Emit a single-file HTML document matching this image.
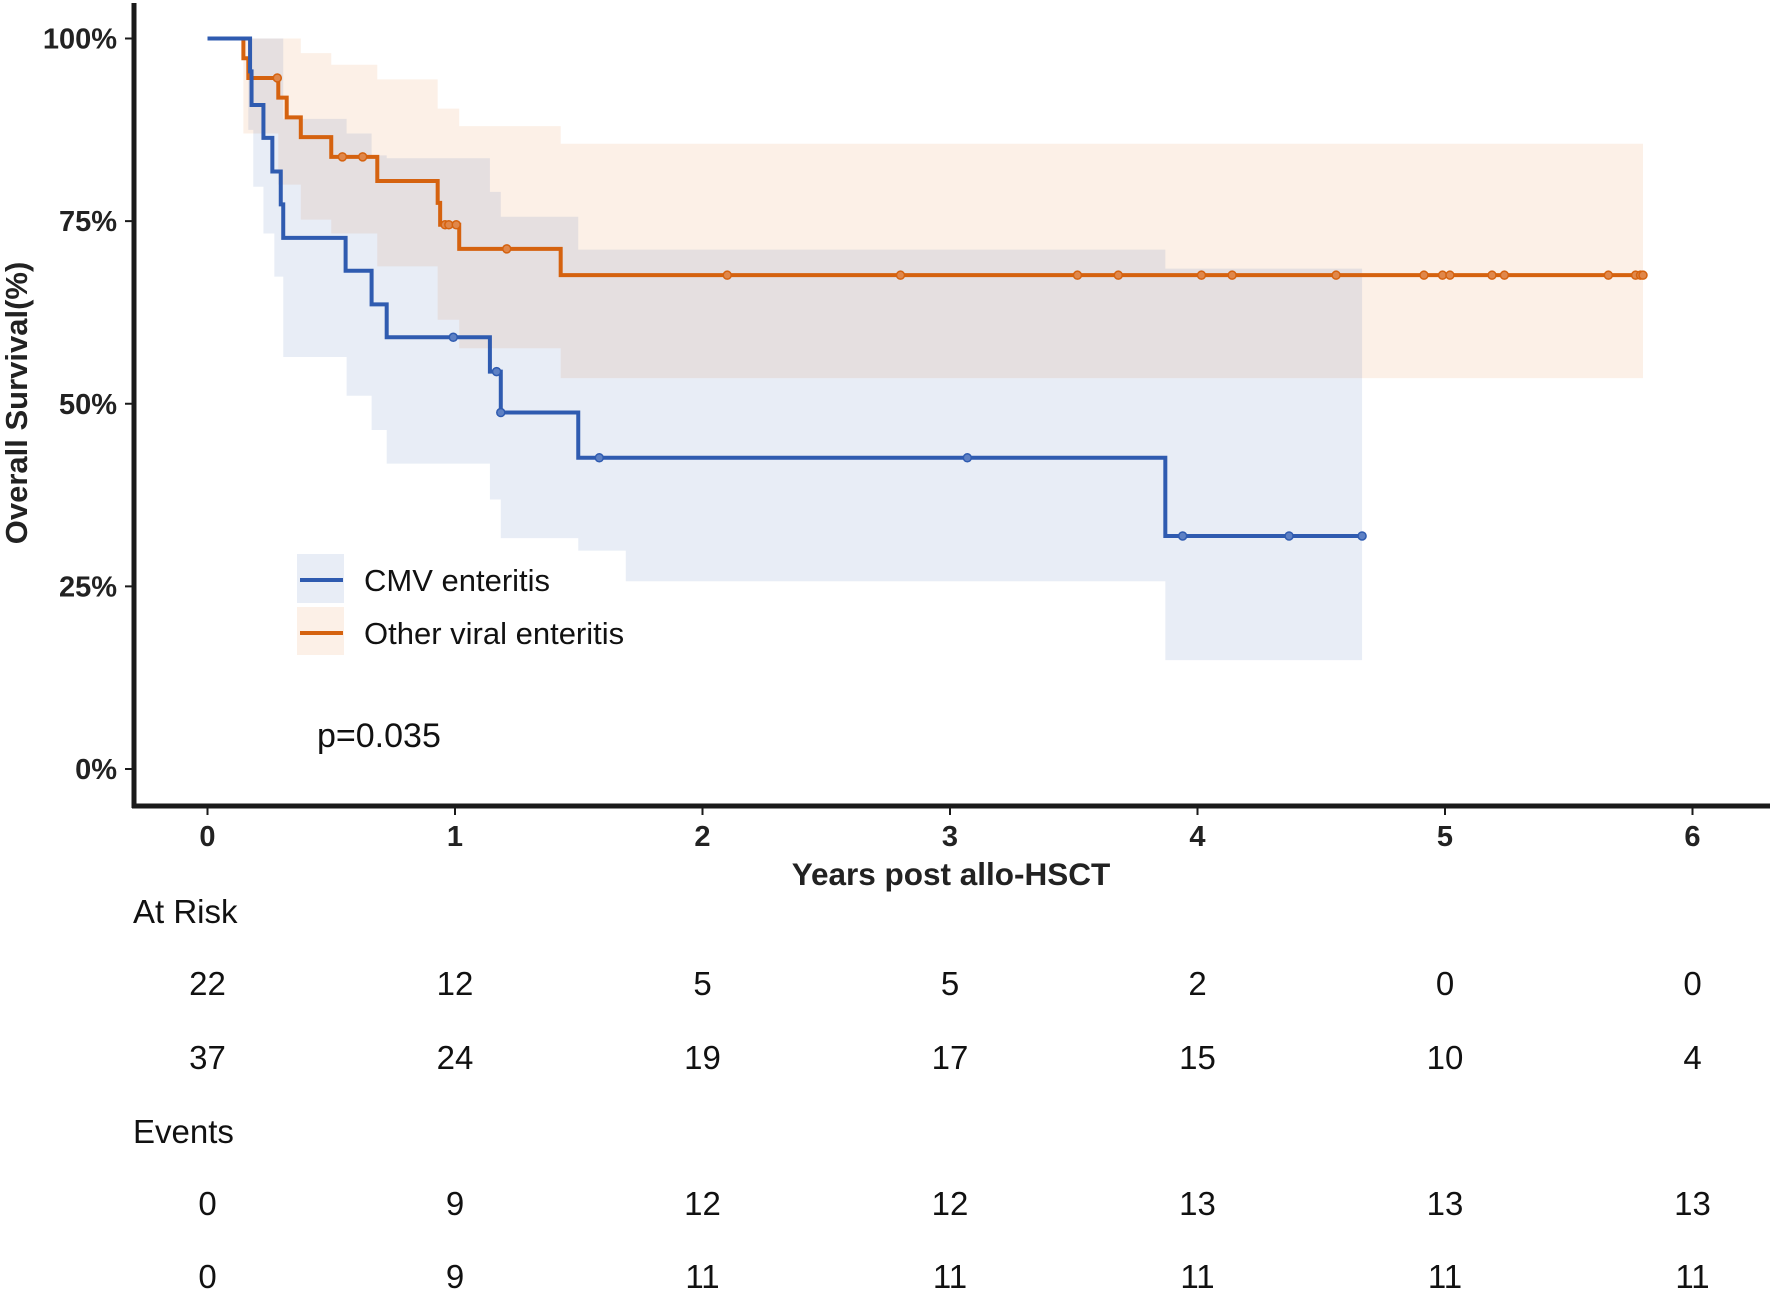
<!DOCTYPE html>
<html><head><meta charset="utf-8"><style>
html,body{margin:0;padding:0;background:#fff;}
svg{display:block;font-family:"Liberation Sans",Arial,sans-serif;}
</style></head><body>
<svg id="chart" width="1772" height="1292" viewBox="0 0 1772 1292" xmlns="http://www.w3.org/2000/svg">
<g id="bands"></g>
<g id="curves"></g>
<g id="axes"></g>
<g id="table"></g>
</svg>
<script>
// ---- data ----
const xTicks = [0,1,2,3,4,5,6];
const yTicks = [0,25,50,75,100];
const yTickLabels = ["0%","25%","50%","75%","100%"];
// CMV enteritis
const cmvTimes = [0,0.172,0.178,0.226,0.262,0.296,0.306,0.558,0.663,0.724,1.141,1.185,1.498,3.87,4.665];
const cmvSurv  = [100,95.5,90.9,86.4,81.8,77.3,72.7,68.2,63.6,59.1,54.4,48.8,42.6,31.9,31.9];
const cmvCensor = [0.993,1.168,1.185,1.583,3.07,3.94,4.37,4.665];
const cmvCensorSurv = [59.1,54.4,48.8,42.6,42.6,31.9,31.9,31.9];
const cmvBandTimes = [0.165,0.185,0.226,0.27,0.306,0.562,0.663,0.724,1.141,1.185,1.498,1.69,3.87,4.665];
const cmvLower = [87.5,79.7,73.3,67.4,56.4,51.1,46.4,41.8,36.9,31.6,29.9,25.7,14.9,14.9];
const cmvUpper = [100,100,100,100,89,87,84,83.6,79,75.6,71.1,71.1,68.5,68.5];
// Other viral enteritis
const othTimes = [0,0.145,0.165,0.286,0.32,0.377,0.50,0.686,0.93,0.94,1.017,1.427,5.80];
const othSurv  = [100,97.3,94.6,91.9,89.2,86.5,83.8,80.5,77.5,74.5,71.2,67.6,67.6];
const othCensor = [0.282,0.545,0.627,0.96,0.975,1.005,1.209,2.10,2.80,3.515,3.68,4.016,4.14,4.56,4.915,4.99,5.02,5.19,5.24,5.66,5.77,5.79,5.80];
const othCensorSurv = [94.6,83.8,83.8,74.5,74.5,74.5,71.2,67.6,67.6,67.6,67.6,67.6,67.6,67.6,67.6,67.6,67.6,67.6,67.6,67.6,67.6,67.6,67.6];
const othBandTimes = [0.145,0.286,0.377,0.50,0.686,0.93,1.017,1.427,5.80];
const othLower = [87,80,75.2,73.3,68.8,61.5,57.6,53.5,53.5];
const othUpper = [100,100,98,96.4,94.4,90.4,88,85.6,85.6];
// risk table
const atRiskCMV = [22,12,5,5,2,0,0];
const atRiskOther = [37,24,19,17,15,10,4];
const eventsCMV = [0,9,12,12,13,13,13];
const eventsOther = [0,9,11,11,11,11,11];

// ---- scales ----
const X0=207.5, XS=247.5, Y0=769, YS=7.305;
const sx = t => X0 + t*XS;
const sy = v => Y0 - v*YS;
const NS="http://www.w3.org/2000/svg";
function mk(tag, attrs, parent){const e=document.createElementNS(NS,tag);for(const k in attrs)e.setAttribute(k,attrs[k]);parent.appendChild(e);return e;}
const bands=document.getElementById('bands'), curves=document.getElementById('curves'), axes=document.getElementById('axes'), table=document.getElementById('table');

function bandPath(times, lo, up){
  let top="", bot=[];
  for(let i=0;i<times.length-1;i++){
    const a=sx(times[i]), b=sx(times[i+1]);
    top += (i===0?"M":"L")+a+","+sy(up[i])+"L"+b+","+sy(up[i]);
    bot.unshift("L"+b+","+sy(lo[i])+"L"+a+","+sy(lo[i]));
  }
  return top+bot.join("")+"Z";
}
function stepPath(times, s){
  let d="M"+sx(times[0])+","+sy(s[0]);
  for(let i=1;i<times.length;i++){d+="L"+sx(times[i])+","+sy(s[i-1])+"L"+sx(times[i])+","+sy(s[i]);}
  return d;
}
let p;
p=mk('path',{d:bandPath(othBandTimes,othLower,othUpper),fill:'rgb(232,120,40)','fill-opacity':0.11},bands);


p=mk('path',{d:bandPath(cmvBandTimes,cmvLower,cmvUpper),fill:'rgb(46,90,172)','fill-opacity':0.11},bands);



p=mk('path',{d:stepPath(othTimes,othSurv),fill:'none',stroke:'#D5620F','stroke-width':4},curves);


p=mk('path',{d:stepPath(cmvTimes,cmvSurv),fill:'none',stroke:'#2F5BB0','stroke-width':4},curves);


othCensor.forEach((t,i)=>{
  const c=mk('circle',{cx:sx(t),cy:sy(othCensorSurv[i]),r:4,fill:'#E0874A',stroke:'#D5620F','stroke-width':1.5},curves);
  
  
});
cmvCensor.forEach((t,i)=>{
  const c=mk('circle',{cx:sx(t),cy:sy(cmvCensorSurv[i]),r:4,fill:'#5D80C4',stroke:'#2F5BB0','stroke-width':1.5},curves);
  
  
});

// axes
let e;
e=mk('line',{x1:134,y1:3,x2:134,y2:808,stroke:'#1a1a1a','stroke-width':5},axes);


e=mk('line',{x1:132,y1:806,x2:1770,y2:806,stroke:'#1a1a1a','stroke-width':5},axes);


yTicks.forEach((v,i)=>{
  const l=mk('line',{x1:125,y1:sy(v),x2:134,y2:sy(v),stroke:'#1a1a1a','stroke-width':2},axes);
  
  
  const t=mk('text',{x:117,y:sy(v)+10,'text-anchor':'end','font-size':29,'font-weight':'bold',fill:'#222'},axes);
  t.textContent=yTickLabels[i];
  
  
});
xTicks.forEach(v=>{
  const l=mk('line',{x1:sx(v),y1:806,x2:sx(v),y2:815,stroke:'#1a1a1a','stroke-width':2},axes);
  
  
  const t=mk('text',{x:sx(v),y:846,'text-anchor':'middle','font-size':29,'font-weight':'bold',fill:'#222'},axes);
  t.textContent=String(v);
  
  
});
e=mk('text',{x:951,y:885,'text-anchor':'middle','font-size':31.5,'font-weight':'bold',fill:'#222'},axes);
e.textContent='Years post allo-HSCT';


e=mk('text',{x:0,y:0,'text-anchor':'middle','font-size':31,'font-weight':'bold',fill:'#222',transform:'translate(27,403) rotate(-90)'},axes);
e.textContent='Overall Survival(%)';



// legend
const lg=mk('g',{},axes);


e=mk('rect',{x:297,y:554,width:47,height:49,fill:'rgb(46,90,172)','fill-opacity':0.11},lg);


e=mk('rect',{x:297,y:607,width:47,height:48,fill:'rgb(232,120,40)','fill-opacity':0.11},lg);


e=mk('line',{x1:300,y1:580,x2:343,y2:580,stroke:'#2F5BB0','stroke-width':4},lg);


e=mk('line',{x1:300,y1:633,x2:343,y2:633,stroke:'#D5620F','stroke-width':4},lg);


e=mk('text',{x:364,y:591,'font-size':31,fill:'#111'},lg);
e.textContent='CMV enteritis';


e=mk('text',{x:364,y:644,'font-size':31,fill:'#111'},lg);
e.textContent='Other viral enteritis';


e=mk('text',{x:317,y:747,'font-size':34,fill:'#111'},axes);
e.textContent='p=0.035';



// table
e=mk('text',{x:133,y:923,'font-size':33,fill:'#111'},table);
e.textContent='At Risk';


e=mk('text',{x:133,y:1143,'font-size':33,fill:'#111'},table);
e.textContent='Events';


const rows=[[atRiskCMV,995,'at-risk-cmv'],[atRiskOther,1069,'at-risk-other'],[eventsCMV,1215,'events-cmv'],[eventsOther,1288,'events-other']];
rows.forEach(r=>{
  r[0].forEach((v,i)=>{
    const t=mk('text',{x:sx(xTicks[i]),y:r[1],'text-anchor':'middle','font-size':33,fill:'#111'},table);
    t.textContent=String(v);
    
    
  });
});
</script>
</body></html>
